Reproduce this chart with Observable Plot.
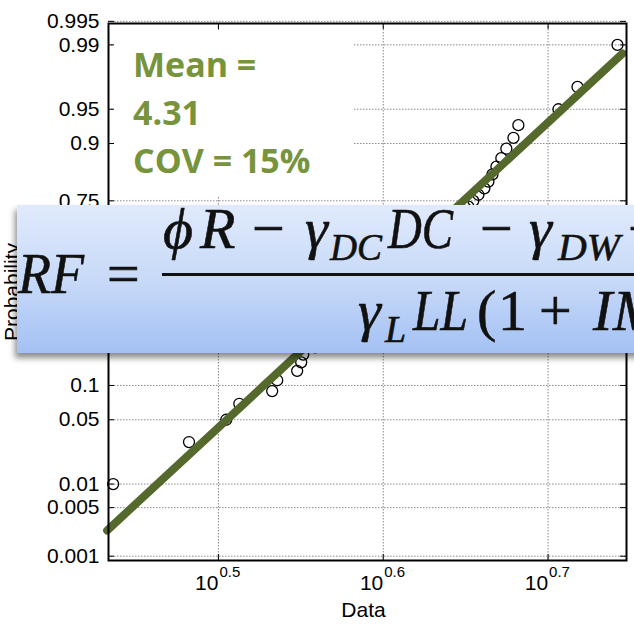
<!DOCTYPE html>
<html><head><meta charset="utf-8">
<script src="https://cdn.jsdelivr.net/npm/d3@7"></script>
<script src="https://cdn.jsdelivr.net/npm/@observablehq/plot@0.6"></script>
<style>
html,body{margin:0;padding:0;background:#fff;overflow:hidden}
#wrap{position:relative;width:634px;height:627px;overflow:hidden;background:#fff}
#chart svg{display:block}
#stat{position:absolute;left:0;top:0}
#banner{position:absolute;left:17px;top:205px;width:700px;height:148px;
  background:linear-gradient(to bottom,#e0eafc 0%,#c8daf8 50%,#a4c1f4 100%);
  box-shadow:-2px 5px 6px rgba(0,0,0,0.45)}
#banner svg{position:absolute;left:0;top:0}
</style></head><body>
<div id="wrap">
<div id="chart"></div>
<svg id="stat" width="634" height="627">
  <rect x="114" y="30" width="239" height="167" fill="#fff"></rect>
  <g font-family="'Open Sans', sans-serif" font-weight="bold" font-size="34" fill="#77933c">
    <text x="133" y="77">Mean =</text>
    <text x="133" y="125">4.31</text>
    <text x="133" y="173">COV = 15%</text>
  </g>
</svg>
<div id="banner">
<svg width="700" height="148">
  <g font-family="'Liberation Serif', 'DejaVu Serif', serif" font-size="58" fill="#111" stroke="#111" stroke-width="0.6">
    <text x="1" y="88" font-style="italic" textLength="66" lengthAdjust="spacingAndGlyphs">RF</text>
    <text x="90" y="88">=</text>
    <rect x="145" y="68" width="560" height="3" fill="#111" stroke="none"></rect>
    <text x="146" y="43" font-style="italic">ϕ</text>
    <text x="183" y="43" font-style="italic">R</text>
    <text x="235" y="43">−</text>
    <text x="288" y="43" font-style="italic">γ</text>
    <text x="313" y="55" font-style="italic" font-size="38" textLength="52" lengthAdjust="spacingAndGlyphs">DC</text>
    <text x="371" y="43" font-style="italic" textLength="65" lengthAdjust="spacingAndGlyphs">DC</text>
    <text x="463" y="43">−</text>
    <text x="512" y="43" font-style="italic">γ</text>
    <text x="541" y="55" font-style="italic" font-size="38" textLength="62" lengthAdjust="spacingAndGlyphs">DW</text>
    <text x="611" y="43">+</text>
    <text x="341" y="125" font-style="italic">γ</text>
    <text x="368" y="137" font-style="italic" font-size="38">L</text>
    <text x="396" y="125" font-style="italic" textLength="55" lengthAdjust="spacingAndGlyphs">LL</text>
    <text x="460" y="125">(</text>
    <text x="481" y="125">1</text>
    <text x="522" y="125">+</text>
    <text x="576" y="125" font-style="italic">I</text>
    <text x="596" y="125" font-style="italic">M</text>
  </g>
</svg>
</div>
</div>
<script>
// sorted sample values
const dataValues = [2.730, 3.035, 3.197, 3.256, 3.409, 3.433, 3.530, 3.550, 3.560, 3.620,
  3.640, 3.687, 3.702, 3.749, 3.760, 3.807, 3.812, 3.861, 3.872, 3.915,
  3.932, 3.976, 3.993, 4.043, 4.060, 4.106, 4.123, 4.170, 4.187, 4.240,
  4.258, 4.305, 4.330, 4.379, 4.403, 4.453, 4.484, 4.515, 4.547, 4.585,
  4.611, 4.637, 4.663, 4.695, 4.728, 4.775, 4.808, 5.085, 5.222, 5.522];
// plotting positions (probabilities)
const probabilities = [0.01, 0.03, 0.05, 0.07, 0.09, 0.11, 0.13, 0.15, 0.17, 0.19,
  0.21, 0.23, 0.25, 0.27, 0.29, 0.31, 0.33, 0.35, 0.37, 0.39,
  0.41, 0.43, 0.45, 0.47, 0.49, 0.51, 0.53, 0.55, 0.57, 0.59,
  0.61, 0.63, 0.65, 0.67, 0.69, 0.71, 0.73, 0.75, 0.77, 0.79,
  0.81, 0.83, 0.85, 0.87, 0.89, 0.91, 0.93, 0.95, 0.97, 0.99];
// reference line end points
const fitX = [2.707, 5.561];
const fitP = [0.00242, 0.9873];
// tick labels
const yTickLabels = ["0.001", "0.005", "0.01", "0.05", "0.1", "0.25", "0.5", "0.75", "0.9", "0.95", "0.99", "0.995"];
const xTickExponents = ["0.5", "0.6", "0.7"];

// inverse standard normal CDF (probability-paper scale transform)
function probit(p) {
  const a=[-3.969683028665376e+01,2.209460984245205e+02,-2.759285104469687e+02,1.383577518672690e+02,-3.066479806614716e+01,2.506628277459239e+00];
  const b=[-5.447609879822406e+01,1.615858368580409e+02,-1.556989798598866e+02,6.680131188771972e+01,-1.328068155288572e+01];
  const c=[-7.784894002430293e-03,-3.223964580411365e-01,-2.400758277161838e+00,-2.549732539343734e+00,4.374664141464968e+00,2.938163982698783e+00];
  const d=[7.784695709041462e-03,3.224671290700398e-01,2.445134137142996e+00,3.754408661907416e+00];
  const pl = 0.02425, ph = 1 - pl;
  let q, r;
  if (p < pl) { q = Math.sqrt(-2*Math.log(p)); return (((((c[0]*q+c[1])*q+c[2])*q+c[3])*q+c[4])*q+c[5])/((((d[0]*q+d[1])*q+d[2])*q+d[3])*q+1); }
  if (p <= ph) { q = p - 0.5; r = q*q; return (((((a[0]*r+a[1])*r+a[2])*r+a[3])*r+a[4])*r+a[5])*q/(((((b[0]*r+b[1])*r+b[2])*r+b[3])*r+b[4])*r+1); }
  q = Math.sqrt(-2*Math.log(1-p)); return -(((((c[0]*q+c[1])*q+c[2])*q+c[3])*q+c[4])*q+c[5])/((((d[0]*q+d[1])*q+d[2])*q+d[3])*q+1);
}

const W = 634, H = 627, mL = 108, mR = 8, mT = 23, mB = 67;
const fw = W - mL - mR, fh = H - mT - mB;
const xDomain = [2.7122, 5.592];
const yDomainP = [0.000857, 0.99466];

const zt = yTickLabels.map(s => probit(+s));
const xt = xTickExponents.map(e => Math.pow(10, +e));
const pts = dataValues.map((v, i) => ({x: v, z: probit(probabilities[i])}));
const fit = fitX.map((v, i) => ({x: v, z: probit(fitP[i])}));
const grid = {stroke: "#888", strokeOpacity: 1, strokeWidth: 1, strokeDasharray: "1.5,1.5"};

const chart = Plot.plot({
  width: W, height: H,
  marginLeft: mL, marginRight: mR, marginTop: mT, marginBottom: mB,
  style: {fontFamily: "'Liberation Sans', Arial, sans-serif", fontSize: "20px", color: "#000", background: "#fff", overflow: "visible"},
  x: {type: "log", domain: xDomain},
  y: {type: "linear", domain: [probit(yDomainP[0]), probit(yDomainP[1])]},
  marks: [
    Plot.gridX(xt, grid),
    Plot.gridY(zt, grid),
    Plot.ruleY(zt, {y: d => d, insetRight: fw - 6, stroke: "#000"}),
    Plot.ruleY(zt, {y: d => d, insetLeft: fw - 6, stroke: "#000"}),
    Plot.ruleX(xt, {x: d => d, insetTop: fh - 6, stroke: "#000"}),
    Plot.ruleX(xt, {x: d => d, insetBottom: fh - 6, stroke: "#000"}),
    Plot.axisY(zt, {tickSize: 0, tickPadding: 9, tickFormat: d => yTickLabels[zt.indexOf(d)], label: null, fontSize: 21}),
    Plot.axisX(xt, {tickSize: 0, tickFormat: () => "", label: null}),
    Plot.text(xt, {x: d => d, frameAnchor: "bottom", text: () => "10", textAnchor: "end", dy: 23, lineAnchor: "middle", fontSize: 21}),
    Plot.text(xt, {x: d => d, frameAnchor: "bottom", text: (d, i) => xTickExponents[i], textAnchor: "start", dx: 1, dy: 12, lineAnchor: "middle", fontSize: 15}),
    Plot.text(["Data"], {frameAnchor: "bottom", text: d => d, dy: 50, dx: -4, lineAnchor: "middle", fontSize: 21}),
    Plot.text(["Probability"], {frameAnchor: "left", text: d => d, rotate: -90, dx: -96, textAnchor: "middle", lineAnchor: "middle", fontSize: 21}),
    Plot.dot(pts, {x: "x", y: "z", r: 5.5, stroke: "#000", strokeWidth: 1.3, fill: "none"}),
    Plot.line(fit, {x: "x", y: "z", stroke: "#55692d", strokeWidth: 8}),
    Plot.frame({stroke: "#000", strokeWidth: 2})
  ]
});
document.getElementById("chart").appendChild(chart);
</script>
</body></html>
